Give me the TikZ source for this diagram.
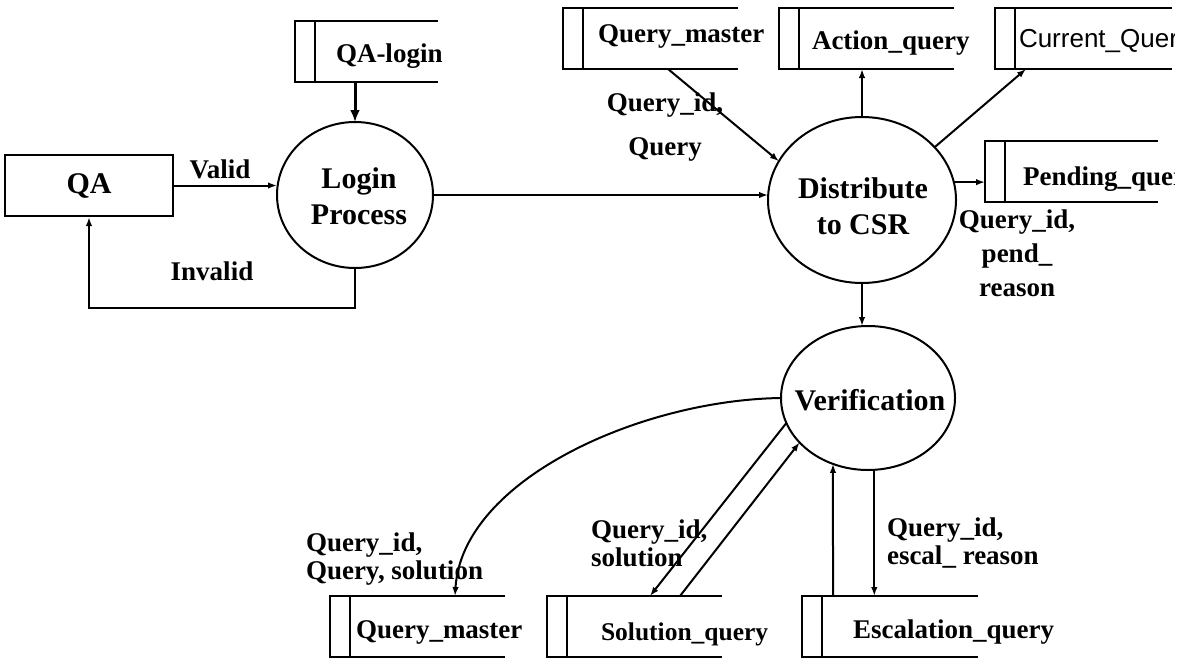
\documentclass[tikz,border=0pt]{standalone}
\usepackage{fontspec}
\setmainfont{Liberation Serif}
\setsansfont{Liberation Sans}
\usetikzlibrary{arrows.meta,shapes.geometric}
% data store: closed left end, inner divider, open right end
\newcommand\storebox[1]{%
  \draw[storeline] (#1.north east) -- (#1.north west) -- (#1.south west) -- (#1.south east);
  \draw[storeline] ([xshift=20pt]#1.north west) -- ([xshift=20pt]#1.south west);}
\begin{document}
\begin{tikzpicture}[x=1pt,y=-1pt,
  line width=2pt,
  storeline/.style={line width=2.2pt},
  store/.style={draw=none,inner sep=0pt,outer sep=0pt,anchor=north west,minimum height=61pt},
  proc/.style={ellipse,draw,line width=2pt,inner sep=0pt,outer sep=0pt},
  boxtext/.style={inner sep=0pt,anchor=base west,font=\fontsize{27}{32}\bfseries\selectfont},
  proctext/.style={inner sep=0pt,align=center,font=\fontsize{30}{36}\bfseries\selectfont},
  flowlabel/.style={inner sep=0pt,font=\fontsize{27}{34}\bfseries\selectfont},
  arr/.style={-{Latex[length=9pt,width=6.5pt]}},
  bigarr/.style={line width=3pt,-{Latex[length=12pt,width=10pt]}}]
\useasboundingbox (0,0) rectangle (1190,661);

% external entity
\node[draw,line width=2.2pt,minimum width=168pt,minimum height=61pt,inner sep=0pt,
      font=\fontsize{30}{36}\bfseries\selectfont] (qa) at (89,185.5) {QA};

% processes
\node[proc,minimum width=156pt,minimum height=146pt] (login) at (355,195) {};
\node[proctext] (login-t) at (359,196) {Login\\Process};
\node[proc,minimum width=188pt,minimum height=166pt] (dist) at (862,200) {};
\node[proctext] (dist-t) at (863,206) {Distribute\\to CSR};
\node[proc,minimum width=174pt,minimum height=144pt] (ver) at (868,398) {};
\node[proctext] (ver-t) at (870,400) {Verification};

% data stores
\node[store,minimum width=143pt] (qalogin) at (295,21) {};
\node[store,minimum width=175pt] (qmtop) at (563,8) {};
\node[store,minimum width=175pt] (action) at (779,8) {};
\node[store,minimum width=177pt] (current) at (995,8) {};
\node[store,minimum width=173pt] (pending) at (985,141) {};
\node[store,minimum width=175pt] (qmbot) at (330,596) {};
\node[store,minimum width=175pt] (sol) at (547,596) {};
\node[store,minimum width=176pt] (esc) at (802,596) {};
\storebox{qalogin}
\storebox{qmtop}
\storebox{action}
\storebox{current}
\storebox{pending}
\storebox{qmbot}
\storebox{sol}
\storebox{esc}

\node[boxtext] (qalogin-t) at (335,63) {QA-login};
\node[boxtext] (qmtop-t) at (597,43) {Query\_master};
\node[boxtext] (action-t) at (811,50) {Action\_query};
\node[boxtext] (qmbot-t) at (355,638) {Query\_master};
\node[boxtext,font=\fontsize{25.5}{30}\bfseries\selectfont] (sol-t) at (600,640) {Solution\_query};
\node[boxtext] (esc-t) at (852,638) {Escalation\_query};
\begin{scope}
  \clip (0,0) rectangle (1174,661);
  \node[boxtext,font=\fontsize{26}{30}\sffamily\selectfont] (current-t) at (1018,48) {Current\_Query};
  \node[boxtext] (pending-t) at (1022,185) {Pending\_query};
\end{scope}

% flows around the login process
\draw[arr] (qa.east) -- (qa.east -| login.west);
\draw[arr] (login.south) -- ++(0,40) -| (qa.south);
\draw[bigarr] (login.north |- qalogin.south) -- (login.north);
\draw[arr] (login.east) -- (login.east -| dist.west);

% flows around distribution
\draw[arr] ([xshift=105pt]qmtop.south west) -- (dist.155);
\draw[arr] (dist.north) -- (dist.north |- action.south);
\draw[arr] (dist.36) -- ([xshift=31pt]current.south west);
\draw[arr] (dist.11) -- (dist.11 -| pending.west);
\draw[arr] (dist.south) -- (dist.south |- ver.north);

% flows around verification
\draw[arr] (ver.west) .. controls (640,400) and (462,480) .. ([xshift=125pt]qmbot.north west);
\draw[arr] (ver.197) -- ([xshift=103pt]sol.north west);
\draw[arr] ([xshift=133pt]sol.north west) -- (ver.213);
\draw[arr] ([xshift=31pt]esc.north west) -- (ver.242);
\draw[arr] (ver.-85) -- (ver.-85 |- esc.north);

% flow labels
\node[flowlabel,anchor=base] (l-valid) at (220,178) {Valid};
\node[flowlabel,anchor=base] (l-invalid) at (212,280) {Invalid};
\node[flowlabel,anchor=north,align=center,font=\fontsize{27}{44}\bfseries\selectfont] (l-qm) at (665,92) {Query\_id,\\Query};
\node[flowlabel,anchor=north,align=center] (l-pend) at (1017,209) {Query\_id,\\pend\_\\reason};
\node[flowlabel,anchor=north west,align=left,font=\fontsize{27}{28}\bfseries\selectfont] (l-qmbot) at (305,532) {Query\_id,\\Query, solution};
\node[flowlabel,anchor=north west,align=left,font=\fontsize{27}{28}\bfseries\selectfont] (l-sol) at (590,519) {Query\_id,\\solution};
\node[flowlabel,anchor=north west,align=left,font=\fontsize{27}{28}\bfseries\selectfont] (l-esc) at (886,517) {Query\_id,\\escal\_ reason};
\end{tikzpicture}
\end{document}
